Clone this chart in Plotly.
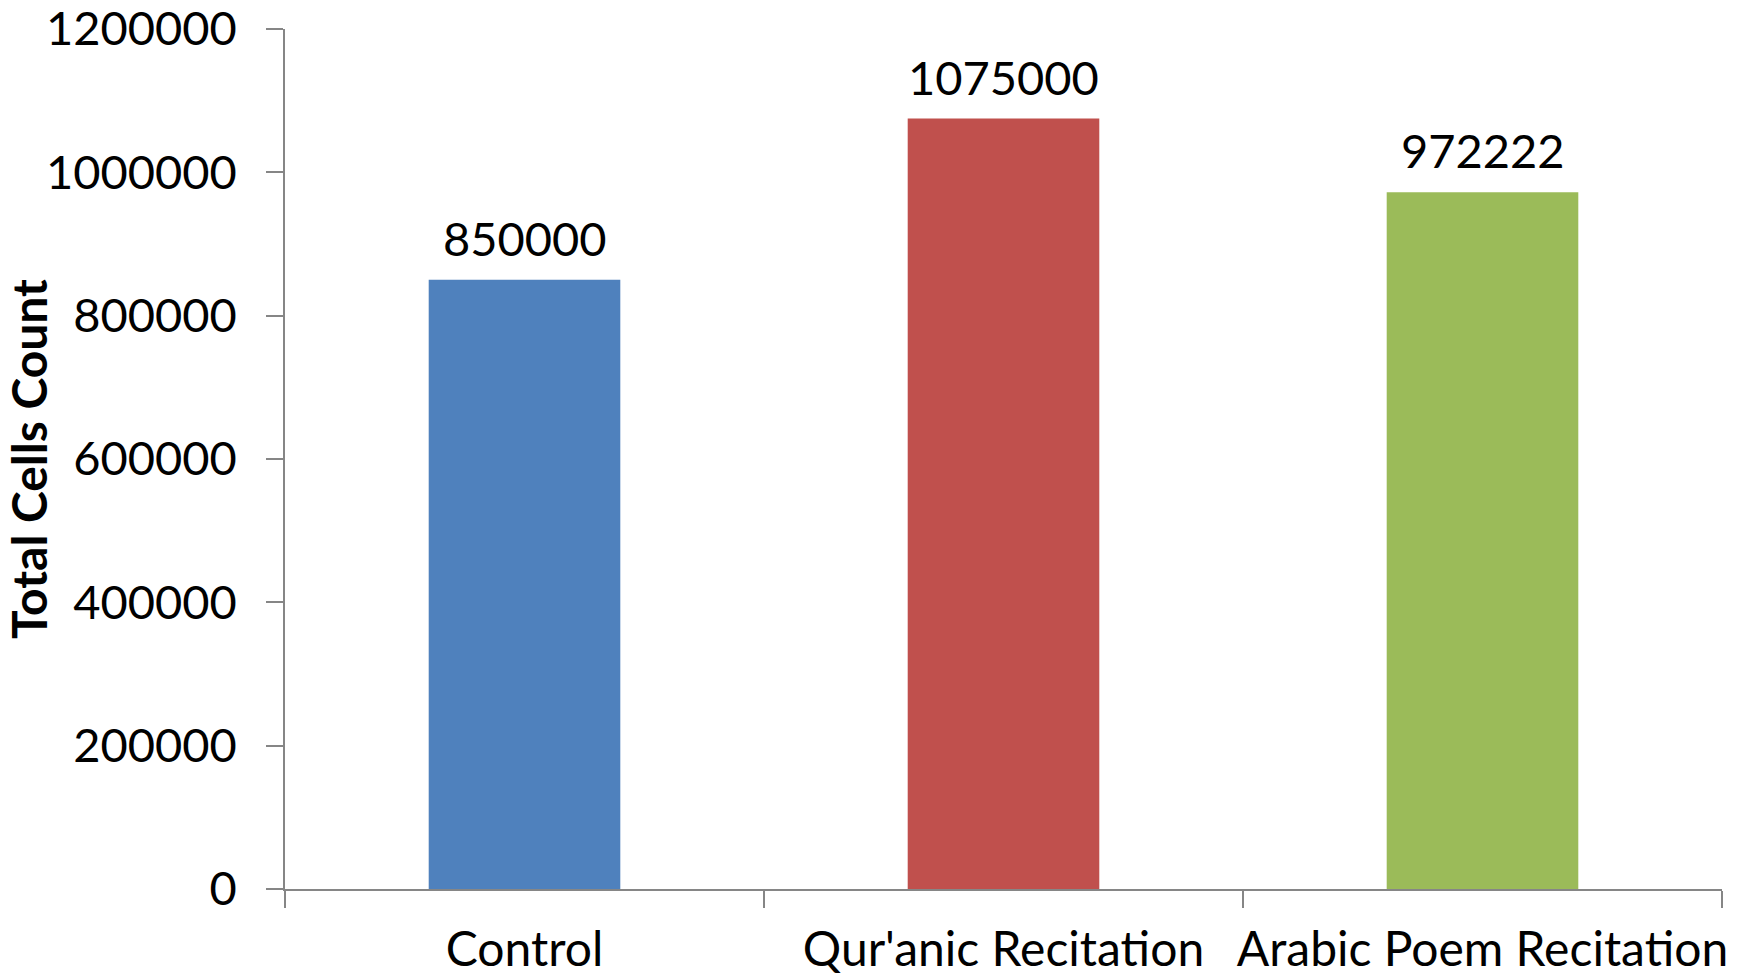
import plotly.graph_objects as go

# Total cell counts per group
categories = ["Control", "Qur'anic Recitation", "Arabic Poem Recitation"]
cell_counts = [850000, 1075000, 972222]
bar_colors = ["#4F81BD", "#C0504D", "#9BBB59"]
y_ticks = [0, 200000, 400000, 600000, 800000, 1000000, 1200000]

FONT = "Lato"
AXIS_GREY = "#868686"

fig = go.Figure(
    go.Bar(
        x=categories,
        y=cell_counts,
        marker=dict(color=bar_colors, line=dict(width=0)),
        width=0.4,
        hoverinfo="x+y",
    )
)

# Value labels sitting above each bar
for cat, val in zip(categories, cell_counts):
    fig.add_annotation(
        x=cat,
        y=val,
        text=str(val),
        showarrow=False,
        yanchor="bottom",
        yshift=12,
        font=dict(family=FONT, size=47, color="black"),
    )

fig.update_layout(
    width=1753,
    height=980,
    margin=dict(l=285, r=31, t=29, b=91, autoexpand=False),
    paper_bgcolor="white",
    plot_bgcolor="white",
    showlegend=False,
    bargap=0.6,
    font=dict(family=FONT, color="black"),
)

fig.update_xaxes(
    showline=True,
    linecolor=AXIS_GREY,
    linewidth=1.5,
    ticks="outside",
    tickson="boundaries",
    ticklen=17,
    tickcolor=AXIS_GREY,
    tickwidth=1.5,
    tickangle=0,
    tickfont=dict(family=FONT, size=48, color="black"),
    ticklabelstandoff=18,
    ticklabeloverflow="allow",
    showgrid=False,
    automargin=False,
)

fig.update_yaxes(
    range=[0, 1200000],
    tickvals=y_ticks,
    ticktext=[str(v) for v in y_ticks],
    showline=True,
    linecolor=AXIS_GREY,
    linewidth=1.5,
    ticks="outside",
    ticklen=17,
    tickcolor=AXIS_GREY,
    tickwidth=1.5,
    tickfont=dict(family=FONT, size=47, color="black"),
    ticklabelstandoff=20,
    ticklabeloverflow="allow",
    showgrid=False,
    zeroline=False,
    automargin=False,
    title=dict(
        text="<b>Total Cells Count</b>",
        font=dict(family=FONT, size=48, color="black"),
        standoff=12,
    ),
)

fig.write_html("out.html")
